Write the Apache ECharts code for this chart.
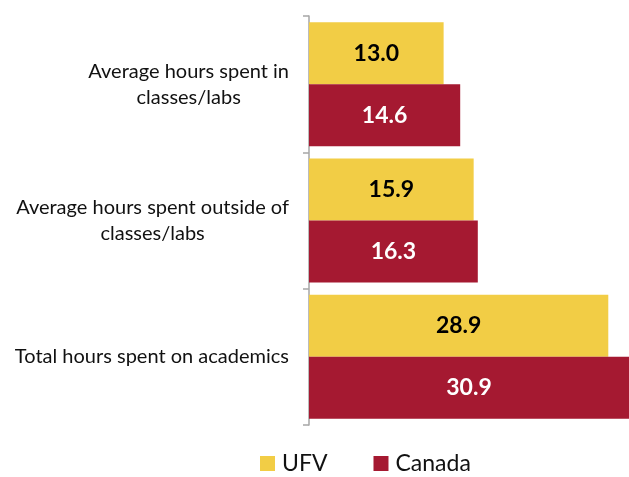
<!DOCTYPE html>
<html><head><meta charset="utf-8">
<script src="https://cdn.jsdelivr.net/npm/echarts@6/dist/echarts.min.js"></script>
<style>html,body{margin:0;padding:0;background:#fff}#c{width:629px;height:477px}</style>
</head><body><div id="c"></div>
<script>
const categories = ["Average hours spent in\nclasses/labs", "Average hours spent outside of\nclasses/labs", "Total hours spent on academics"];
const ufv = [13.0, 15.9, 28.9];
const canada = [14.6, 16.3, 30.9];
const seriesNames = ["UFV", "Canada"];

const chart = echarts.init(document.getElementById('c'), null, {renderer: 'canvas'});
const font = 'Lato, "Open Sans", sans-serif';
chart.setOption({
  animation: false,
  grid: {left: 309, right: -1, top: 16, bottom: 52, containLabel: false},
  xAxis: {type: 'value', min: 0, max: 30.9, show: false},
  yAxis: {
    type: 'category', data: categories, inverse: true,
    axisLine: {show: true, lineStyle: {color: '#A6A6A6', width: 1.5}},
    axisTick: {show: true, length: 6, inside: false, lineStyle: {color: '#A6A6A6', width: 1.5}},
    axisLabel: {
      margin: 20, align: 'right', color: '#111', fontFamily: font, fontSize: 20, lineHeight: 26,
      formatter: v => v.split('\n').map(l => '{c|' + l + '}').join('\n'),
      rich: {c: {align: 'center', fontFamily: font, fontSize: 20, lineHeight: 26, color: '#111'}}
    }
  },
  legend: {
    data: seriesNames, left: 260, top: 452, padding: 0, itemWidth: 15, itemHeight: 15, itemGap: 46,
    icon: 'rect', textStyle: {fontFamily: font, fontSize: 23, color: '#111', padding: [0,0,0,2]}
  },
  series: [
    {name: seriesNames[0], type: 'bar', data: ufv, barGap: '0%', barCategoryGap: '9%',
     itemStyle: {color: '#F2CD45'},
     label: {show: true, position: 'inside', formatter: p => p.value.toFixed(1), color: '#000', fontFamily: font, fontWeight: 'bold', fontSize: 23}},
    {name: seriesNames[1], type: 'bar', data: canada, barGap: '0%', barCategoryGap: '9%',
     itemStyle: {color: '#A51931'},
     label: {show: true, position: 'inside', formatter: p => p.value.toFixed(1), color: '#fff', fontFamily: font, fontWeight: 'bold', fontSize: 23}}
  ]
});
</script></body></html>
